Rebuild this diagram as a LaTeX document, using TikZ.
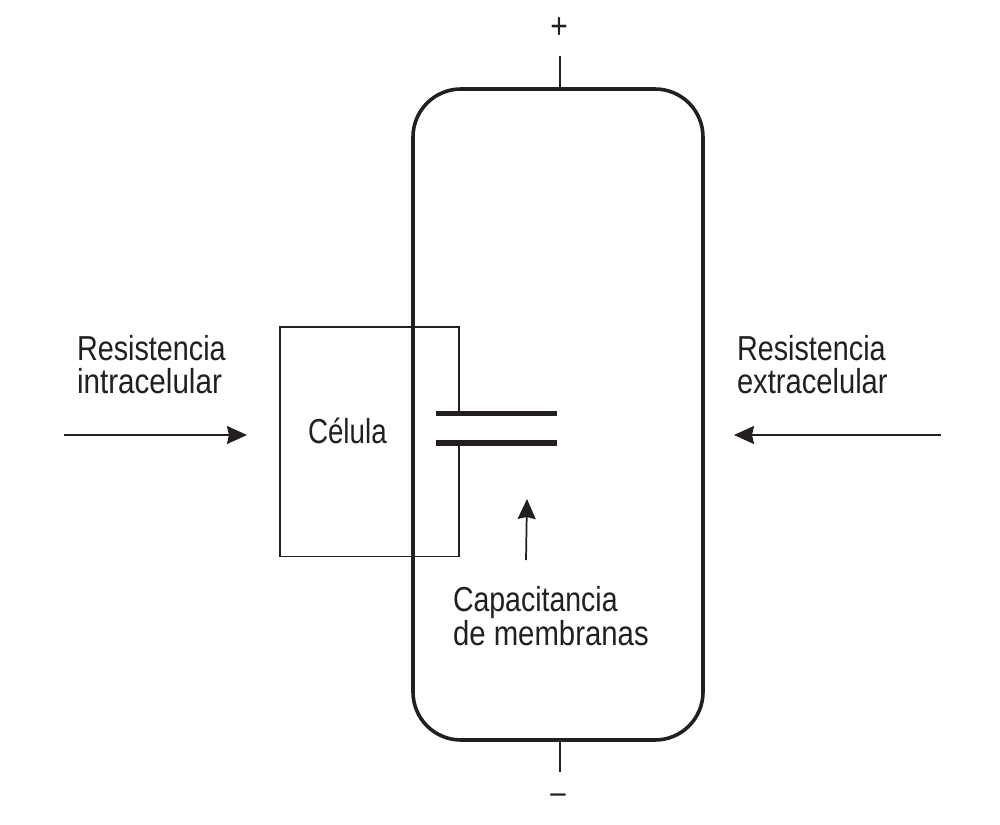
\documentclass[tikz,border=0pt]{standalone}
\usepackage{fontspec}
\setmainfont[FakeStretch=0.83]{Liberation Sans}
\usetikzlibrary{arrows.meta}
\tikzset{
  lbl/.style={anchor=base west,inner sep=0pt,outer sep=0pt,font=\fontsize{26pt}{26pt}\selectfont,text=ink,transform shape},
  sign/.style={inner sep=0pt,outer sep=0pt,text=ink},
  membrane/.style={draw=ink,line width=2.7pt,rounded corners=36pt,minimum width=217.5pt,minimum height=488.25pt,inner sep=0pt,outer sep=0pt},
  thin line/.style={draw=ink,line width=1.25pt},
  lead/.style={draw=ink,line width=1.5pt},
  plate/.style={draw=ink,line width=4.2pt},
  pointer/.style={draw=ink,line width=1.3pt,-{Stealth[length=15pt,width=13.5pt,inset=1.5pt]}}
}
\definecolor{ink}{HTML}{231F20}
\begin{document}
\begin{tikzpicture}[x=0.75pt,y=-0.75pt]
\useasboundingbox (0,0) rectangle (1000,825);
\fill[white] (0,0) rectangle (1000,825);
% cell outline with a gap for the capacitor
\coordinate (cTL) at (280,327);
\coordinate (cTR) at (459,327);
\coordinate (cBL) at (280,556.5);
\coordinate (cBR) at (459,556.5);
\coordinate (cU) at (459,413);
\coordinate (cL) at (459,443);
\draw[thin line,line join=miter] (cU) -- (cTR) -- (cTL) -- (cBL) -- (cBR) -- (cL);
% membrane box
\node[membrane] (box) at (558,414.5) {};
% plates
\coordinate (p1a) at (436,413.5);
\coordinate (p1b) at (557,413.5);
\coordinate (p2a) at (436,443);
\coordinate (p2b) at (557,443);
\draw[plate] (p1a) -- (p1b);
\draw[plate] (p2a) -- (p2b);
% leads
\coordinate (topEnd) at (560,56);
\coordinate (topJoin) at (560,89);
\coordinate (botEnd) at (560,772);
\coordinate (botJoin) at (560,740);
\draw[lead] (topEnd) -- (topJoin);
\draw[lead] (botEnd) -- (botJoin);
% arrows
\coordinate (a1s) at (64,435);
\coordinate (a1e) at (247,435);
\coordinate (a2s) at (941,435);
\coordinate (a2e) at (734,435);
\coordinate (a3s) at (526,560);
\coordinate (a3e) at (527,499);
\draw[pointer] (a1s) -- (a1e);
\draw[pointer] (a2s) -- (a2e);
\draw[pointer] (a3s) -- (a3e);
% labels
\node[lbl] (rint1) at (77,360) {Resistencia};
\node[lbl,xscale=1.03] (rint2) at (77,393) {intracelular};
\node[lbl] (rext1) at (737,360) {Resistencia};
\node[lbl,xscale=1.013] (rext2) at (737,393) {extracelular};
\node[lbl,xscale=0.965] (cel) at (308,443) {Célula};
\node[lbl,xscale=0.99] (cap1) at (453,611) {Capacitancia};
\node[lbl,xscale=1.02] (cap2) at (453,645) {de membranas};
\node[sign,font=\fontsize{27pt}{27pt}\selectfont] (plus) at (559,28) {+};
\node[sign,font=\fontsize{25pt}{25pt}\selectfont] (minus) at (558,799) {–};
\end{tikzpicture}
\end{document}
